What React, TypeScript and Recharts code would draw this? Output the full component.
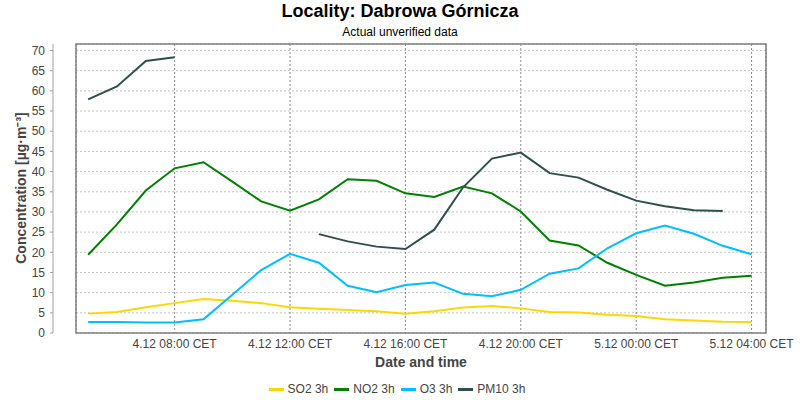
import React from "react";
import {
  LineChart,
  Line,
  XAxis,
  YAxis,
  CartesianGrid,
  ReferenceArea,
} from "recharts";

// hours since 4.12 00:00 CET
const hours = [5, 6, 7, 8, 9, 10, 11, 12, 13, 14, 15, 16, 17, 18, 19, 20, 21, 22, 23, 24, 25, 26, 27, 28];

const so2 = [4.8, 5.2, 6.4, 7.4, 8.4, 8.0, 7.4, 6.4, 6.0, 5.7, 5.4, 4.8, 5.4, 6.3, 6.7, 6.1, 5.2, 5.1, 4.5, 4.2, 3.4, 3.1, 2.8, 2.7];
const no2 = [19.4, 26.9, 35.3, 40.8, 42.3, 37.5, 32.6, 30.3, 33.1, 38.1, 37.7, 34.6, 33.7, 36.3, 34.6, 30.1, 22.9, 21.7, 17.4, 14.4, 11.7, 12.5, 13.7, 14.2];
const o3 = [2.7, 2.7, 2.6, 2.6, 3.4, 9.5, 15.6, 19.6, 17.4, 11.7, 10.1, 11.9, 12.5, 9.7, 9.1, 10.7, 14.7, 16.0, 21.0, 24.7, 26.6, 24.6, 21.6, 19.5];
const pm10 = [57.9, 61.1, 67.4, 68.3, null, null, null, null, 24.5, 22.7, 21.4, 20.8, 25.6, 36.1, 43.2, 44.7, 39.6, 38.5, 35.5, 32.8, 31.4, 30.4, 30.2, null];

const xTicks = [8, 12, 16, 20, 24, 28];
const xTickLabels = [
  "4.12 08:00 CET",
  "4.12 12:00 CET",
  "4.12 16:00 CET",
  "4.12 20:00 CET",
  "5.12 00:00 CET",
  "5.12 04:00 CET",
];
const yTicks = [0, 5, 10, 15, 20, 25, 30, 35, 40, 45, 50, 55, 60, 65, 70];

const series = [
  { key: "so2", name: "SO2 3h", color: "#FFD700" },
  { key: "no2", name: "NO2 3h", color: "#008000" },
  { key: "o3", name: "O3 3h", color: "#00BFFF" },
  { key: "pm10", name: "PM10 3h", color: "#2F4F4F" },
];

const data = hours.map((h, i) => ({
  hour: h,
  so2: so2[i],
  no2: no2[i],
  o3: o3[i],
  pm10: pm10[i],
}));

const X_DOMAIN: [number, number] = [4.58, 28.5];
const Y_DOMAIN: [number, number] = [0, 71.6];
const FONT = "'Liberation Sans', Arial, sans-serif";

export default function App() {
  return (
    <div
      style={{
        position: "absolute",
        left: 0,
        top: 0,
        width: 800,
        height: 400,
        background: "#fff",
        fontFamily: FONT,
      }}
    >
      <div
        style={{
          position: "absolute",
          top: 0,
          width: 800,
          textAlign: "center",
          fontSize: 18,
          fontWeight: "bold",
          lineHeight: "22px",
          color: "#000",
        }}
      >
        Locality: Dabrowa Górnicza
      </div>
      <div
        style={{
          position: "absolute",
          top: 24,
          width: 800,
          textAlign: "center",
          fontSize: 12,
          lineHeight: "16px",
          color: "#000",
        }}
      >
        Actual unverified data
      </div>

      <LineChart
        width={800}
        height={400}
        data={data}
        margin={{ top: 44, right: 34, bottom: 47, left: 0 }}
        style={{ position: "absolute", left: 0, top: 0 }}
      >
        {/* value axis sits 23px left of the plot, like the original */}
        <YAxis
          yAxisId="b"
          width={53}
          type="number"
          domain={Y_DOMAIN}
          ticks={yTicks}
          allowDataOverflow
          interval={0}
          tickSize={3}
          tickMargin={5}
          axisLine={{ stroke: "#a0a0a0" }}
          tickLine={{ stroke: "#a0a0a0" }}
          tick={{ fontSize: 12, fill: "#444", fontFamily: FONT }}
        />
        <YAxis
          yAxisId="a"
          width={23}
          tick={false}
          axisLine={false}
          tickLine={false}
        />
        <XAxis
          dataKey="hour"
          type="number"
          domain={X_DOMAIN}
          ticks={xTicks}
          allowDataOverflow
          interval={0}
          height={20}
          axisLine={false}
          tickLine={false}
          tickSize={0}
          tickMargin={6}
          tick={{ fontSize: 12, fill: "#444", fontFamily: FONT }}
          tickFormatter={(v) => xTickLabels[xTicks.indexOf(v)] ?? ""}
        />
        <CartesianGrid
          yAxisId="b"
          vertical={false}
          stroke="#c4c4c4"
          strokeDasharray="2 2"
        />
        <CartesianGrid
          yAxisId="b"
          horizontal={false}
          stroke="#8a8a8a"
          strokeDasharray="2 2"
        />
        <ReferenceArea
          yAxisId="b"
          x1={X_DOMAIN[0]}
          x2={X_DOMAIN[1]}
          y1={Y_DOMAIN[0]}
          y2={Y_DOMAIN[1]}
          fill="none"
          fillOpacity={0}
          stroke="#7f7f7f"
          strokeWidth={1.5}
          ifOverflow="visible"
        />
        {series.map((s) => (
          <Line
            key={s.key}
            yAxisId="b"
            type="linear"
            dataKey={s.key}
            name={s.name}
            stroke={s.color}
            strokeWidth={2}
            dot={false}
            activeDot={false}
            isAnimationActive={false}
          />
        ))}
      </LineChart>

      <div
        style={{
          position: "absolute",
          left: 20,
          top: 188,
          transform: "translate(-50%, -50%) rotate(-90deg)",
          whiteSpace: "nowrap",
          fontSize: 14,
          fontWeight: "bold",
          color: "#444",
        }}
      >
        Concentration [µg·m⁻³]
      </div>
      <div
        style={{
          position: "absolute",
          left: 76,
          top: 353,
          width: 690,
          textAlign: "center",
          fontSize: 14,
          fontWeight: "bold",
          lineHeight: "18px",
          color: "#444",
        }}
      >
        Date and time
      </div>

      <div
        style={{
          position: "absolute",
          top: 381,
          width: 800,
          display: "flex",
          justifyContent: "center",
          alignItems: "center",
          fontSize: 12,
          lineHeight: "16px",
          color: "#444",
        }}
      >
        {series.map((s) => (
          <div
            key={s.key}
            style={{ display: "flex", alignItems: "center", marginRight: 6 }}
          >
            <span
              style={{
                display: "inline-block",
                width: 15,
                height: 3,
                background: s.color,
                marginRight: 4,
              }}
            />
            <span>{s.name}</span>
          </div>
        ))}
      </div>
    </div>
  );
}
